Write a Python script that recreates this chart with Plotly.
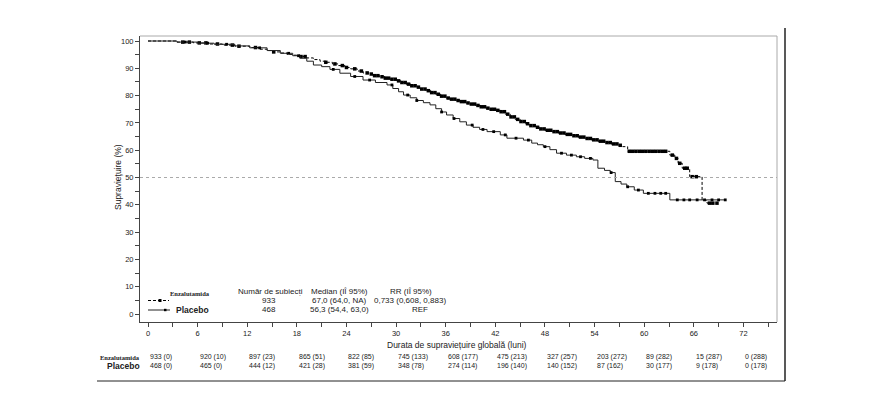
import numpy as np
import plotly.graph_objects as go

# ---------------- data ----------------
enz_t = [0, 3.5, 5.5, 7.5, 9, 10.5, 12.3, 13.5, 14.4, 15.2, 16.0, 16.8, 17.5, 18.4, 19.2, 20.0,
         20.8, 21.5, 22.3, 23.0, 23.8, 24.5, 25.3, 26.0, 26.7, 27.4, 28.0, 28.7, 29.3, 30.0,
         30.6, 31.2, 31.8, 32.4, 33.0, 33.6, 34.2, 34.8, 35.4, 36.0, 36.6, 37.2, 37.8, 38.4,
         39.0, 39.6, 40.2, 40.8, 41.4, 42.0, 42.6, 43.2, 43.8, 44.4, 45.0, 45.6, 46.2, 46.8,
         47.4, 48.0, 48.8, 49.6, 50.4, 51.2, 52.0, 52.8, 53.6, 54.4, 55.2, 56.0, 56.8, 57.4,
         58.0, 63.1, 63.7, 64.1, 64.6, 65.5, 67.0, 67.6]
enz_s = [100, 99.6, 99.3, 98.9, 98.5, 98.1, 97.6, 97.0, 96.5, 96.0, 95.6, 95.1, 94.8, 94.3, 93.8,
         93.2, 92.6, 92.2, 91.6, 91.0, 90.3, 89.8, 89.0, 88.3, 87.9, 87.3, 86.9, 86.4, 86.0,
         85.4, 84.8, 84.2, 83.6, 83.1, 82.4, 81.8, 81.1, 80.5, 79.8, 79.1, 78.7, 78.2, 77.8,
         77.3, 76.9, 76.4, 75.9, 75.4, 75.0, 74.6, 74.1, 73.2, 72.2, 71.3, 70.5, 69.7, 69.0,
         68.4, 67.8, 67.3, 66.8, 66.3, 65.8, 65.3, 64.8, 64.3, 63.8, 63.3, 62.8, 62.3, 61.8,
         61.3, 59.6, 58.2, 57.0, 55.2, 53.4, 50.3, 41.6, 40.6]
enz_end = 68.8
enz_cens = [4.2, 5.0, 6.2, 7.0, 8.4, 10.2, 11.0, 13.0, 15.2, 18.5, 19.0, 21.5, 22.6, 23.5, 24.0,
            25.0, 25.8, 26.5, 27.0, 27.4, 27.8, 28.3, 28.7, 29.1, 29.5, 29.9, 30.3, 30.7, 31.1,
            31.5, 31.9, 32.3, 32.7, 33.1, 33.5, 33.9, 34.3, 34.7, 35.1, 35.5, 35.9, 36.3, 36.7,
            37.1, 37.5, 37.9, 38.3, 38.7, 39.1, 39.5, 39.9, 40.3, 40.7, 41.1, 41.5, 41.9, 42.3,
            42.7, 43.1, 43.5, 43.9, 44.3, 44.7, 45.1, 45.5, 45.9, 46.3, 46.7, 47.1, 47.5, 47.9,
            48.3, 48.7, 49.1, 49.5, 49.9, 50.3, 50.7, 51.1, 51.5, 51.9, 52.3, 52.7, 53.1, 53.5,
            53.9, 54.3, 54.7, 55.1, 55.5, 55.9, 56.3, 56.7, 57.1, 58.2, 58.6, 59.0, 59.4, 59.8,
            60.2, 60.6, 61.0, 61.4, 61.8, 62.2, 62.6, 63.4, 63.9, 64.3, 64.9, 65.2, 65.8, 66.3,
            67.9, 68.3, 68.8]

pla_t = [0, 3.5, 6, 8, 10.5, 12.3, 14.4, 16, 17.5, 18.4, 19.2, 20, 21, 22, 23.2, 24.5, 26, 27.5,
         28.9, 29.6, 30.3, 30.9, 31.7, 32.5, 33.3, 34.1, 34.8, 35.5, 36.1, 36.9, 37.7, 38.5,
         39.3, 40.1, 41.0, 42.6, 43.4, 45.4, 46.4, 47.1, 47.8, 48.6, 49.4, 50.6, 51.8, 52.8,
         53.8, 54.4, 55.2, 55.9, 56.5, 57.2, 57.9, 58.8, 59.9, 63.1]
pla_s = [100, 99.6, 99.2, 98.8, 98.2, 97.5, 96.5, 95.5, 94.6, 93.7, 92.6, 91.2, 90.6, 89.6, 88.2,
         87.0, 85.7, 84.8, 83.9, 82.6, 81.4, 80.2, 79.2, 78.2, 77.4, 76.6, 75.2, 74.0, 72.9,
         71.6, 70.4, 69.2, 68.4, 67.6, 66.8, 65.6, 64.4, 63.7, 62.6, 62.0, 61.3, 60.2, 58.9,
         58.2, 57.6, 57.0, 56.4, 53.4, 52.6, 51.8, 48.5, 47.6, 46.6, 45.4, 44.2, 41.8]
pla_end = 69.8
pla_cens = [4.5, 7.2, 9.5, 13.5, 17.0, 18.2, 22.4, 25.0, 26.8, 29.5, 31.4, 32.5, 35.5, 37.0,
            39.2, 40.5, 41.8, 43.2, 44.5, 46.0, 48.0, 50.0, 51.2, 52.3, 53.5, 56.0, 58.0, 59.3,
            60.5, 61.3, 62.0, 62.6, 64.0, 64.8, 65.5, 66.4, 67.3, 68.2, 69.0, 69.8]

risk_months = [0, 6, 12, 18, 24, 30, 36, 42, 48, 54, 60, 66, 72]
enz_risk = ["933 (0)", "920 (10)", "897 (23)", "865 (51)", "822 (85)", "745 (133)", "608 (177)",
            "475 (213)", "327 (257)", "203 (272)", "89 (282)", "15 (287)", "0 (288)"]
pla_risk = ["468 (0)", "465 (0)", "444 (12)", "421 (28)", "381 (59)", "348 (78)", "274 (114)",
            "196 (140)", "140 (152)", "87 (162)", "30 (177)", "9 (178)", "0 (178)"]

groups = ["Enzalutamida", "Placebo"]
n_subjects = ["933", "468"]
medians = ["67,0 (64,0, NA)", "56,3 (54,4, 63,0)"]
hazard = ["0,733 (0,608, 0,883)", "REF"]


def step_value(ts, ss, x):
    idx = np.searchsorted(np.array(ts), np.array(x), side="right") - 1
    return np.array(ss)[idx]


# ---------------- geometry helpers (pixels -> paper) ----------------
W, H = 885, 411
L, R, T, B = 140, 777, 36, 322


def px(x):
    return (x - L) / (R - L)


def py(y):
    return (B - y) / (B - T)


FONT = "Liberation Sans"
TXT = "#222222"

fig = go.Figure()

# Enzalutamida curve
fig.add_trace(go.Scatter(
    x=enz_t + [enz_end], y=enz_s + [enz_s[-1]], mode="lines", line_shape="hv",
    line=dict(color="black", width=1, dash="3px,2px"), showlegend=False, hoverinfo="skip"))
fig.add_trace(go.Scatter(
    x=enz_cens, y=step_value(enz_t, enz_s, enz_cens), mode="markers",
    marker=dict(symbol="square", size=3.5, color="black"), showlegend=False, hoverinfo="skip"))

# Placebo curve
fig.add_trace(go.Scatter(
    x=pla_t + [pla_end], y=pla_s + [pla_s[-1]], mode="lines", line_shape="hv",
    line=dict(color="#222222", width=1), showlegend=False, hoverinfo="skip"))
fig.add_trace(go.Scatter(
    x=pla_cens, y=step_value(pla_t, pla_s, pla_cens), mode="markers",
    marker=dict(symbol="square", size=2.8, color="black"), showlegend=False, hoverinfo="skip"))

shapes = []
# 50% reference line
shapes.append(dict(type="line", xref="paper", yref="y", x0=0, x1=1, y0=50, y1=50,
                   line=dict(color="#aaaaaa", width=1, dash="3px,3px")))
# inner frame (top/right gray)
shapes.append(dict(type="line", xref="paper", yref="paper", x0=0, x1=1, y0=1, y1=1,
                   line=dict(color="#aaaaaa", width=1)))
shapes.append(dict(type="line", xref="paper", yref="paper", x0=1, x1=1, y0=0, y1=1,
                   line=dict(color="#aaaaaa", width=1)))
# outer frame (right & bottom)
shapes.append(dict(type="line", xref="paper", yref="paper", x0=px(785), x1=px(785),
                   y0=py(28), y1=py(381), line=dict(color="#222222", width=1.5)))
shapes.append(dict(type="line", xref="paper", yref="paper", x0=px(97), x1=px(785),
                   y0=py(381), y1=py(381), line=dict(color="#222222", width=1)))
# legend samples
shapes.append(dict(type="line", xref="paper", yref="paper", x0=px(148), x1=px(169),
                   y0=py(300.5), y1=py(300.5), line=dict(color="black", width=1, dash="3px,2px")))
shapes.append(dict(type="rect", xref="paper", yref="paper", x0=px(158.5), x1=px(161.5),
                   y0=py(302), y1=py(299), fillcolor="black", line=dict(width=0)))
shapes.append(dict(type="line", xref="paper", yref="paper", x0=px(148), x1=px(170),
                   y0=py(310), y1=py(310), line=dict(color="#222222", width=1)))
shapes.append(dict(type="rect", xref="paper", yref="paper", x0=px(164), x1=px(166.5),
                   y0=py(311.2), y1=py(308.8), fillcolor="black", line=dict(width=0)))

ann = []


def text(x, y, s, size=8, anchor="center", family=FONT, color=TXT, angle=0, bold=False):
    if bold:
        s = "<b>" + s + "</b>"
    ann.append(dict(x=px(x), y=py(y), xref="paper", yref="paper", text=s, showarrow=False,
                    xanchor=anchor, yanchor="middle", textangle=angle,
                    font=dict(size=size, family=family, color=color)))


# axis titles
text(118, 177, "Supraviețuire (%)", size=8.5, angle=-90)
text(457, 345, "Durata de supraviețuire globală (luni)", size=8.5)

# in-plot legend / summary table
text(190, 293.3, groups[0], size=6.5, family="Liberation Serif", bold=True)
text(174, 310, groups[1], size=8.5, anchor="left", bold=True)
text(270, 291.7, "Număr de subiecți", size=8)
text(339, 291.7, "Median (IÎ 95%)", size=8)
text(411, 291.7, "RR (IÎ 95%)", size=8)
for i, yy in enumerate([300, 309.3]):
    text(269, yy, n_subjects[i], size=8)
    text(339, yy, medians[i], size=8)
text(410, 300, hazard[0], size=8)
text(420, 309.3, hazard[1], size=8)

# risk table labels
text(142, 357, groups[0], size=6.5, anchor="right", family="Liberation Serif", bold=True)
text(142, 366, groups[1], size=8.5, anchor="right", bold=True)

# risk table numbers (positioned via x axis)
for m, a, b in zip(risk_months, enz_risk, pla_risk):
    ann.append(dict(x=m, y=py(357), xref="x", yref="paper", text=a, showarrow=False,
                    xanchor="left", yanchor="middle", font=dict(size=7, family=FONT, color=TXT)))
    ann.append(dict(x=m, y=py(366), xref="x", yref="paper", text=b, showarrow=False,
                    xanchor="left", yanchor="middle", font=dict(size=7, family=FONT, color=TXT)))

xs = 8.27
fig.update_layout(
    width=W, height=H, margin=dict(l=L, r=W - R, t=T, b=H - B),
    plot_bgcolor="white", paper_bgcolor="white",
    shapes=shapes, annotations=ann, showlegend=False,
    xaxis=dict(range=[(L - 148) / xs, (R - 148) / xs], tickmode="array",
               tickvals=risk_months, ticktext=[str(m) for m in risk_months],
               ticks="outside", ticklen=4, tickcolor="#444444", showline=True,
               linecolor="#444444", linewidth=1, showgrid=False, zeroline=False,
               tickfont=dict(size=7.5, family=FONT, color=TXT),
               minor=dict(dtick=3, tick0=0, ticks="outside", ticklen=4, tickcolor="#444444")),
    yaxis=dict(range=[100 - (B - 41) / 2.73, 100 + (41 - T) / 2.73], tickmode="array",
               tickvals=list(range(0, 101, 10)), ticks="outside", ticklen=4,
               tickcolor="#444444", showline=True, linecolor="#444444", linewidth=1,
               showgrid=False, zeroline=False,
               tickfont=dict(size=7.5, family=FONT, color=TXT),
               minor=dict(dtick=5, tick0=0, ticks="outside", ticklen=4, tickcolor="#444444")),
)

fig.write_html("out.html")
